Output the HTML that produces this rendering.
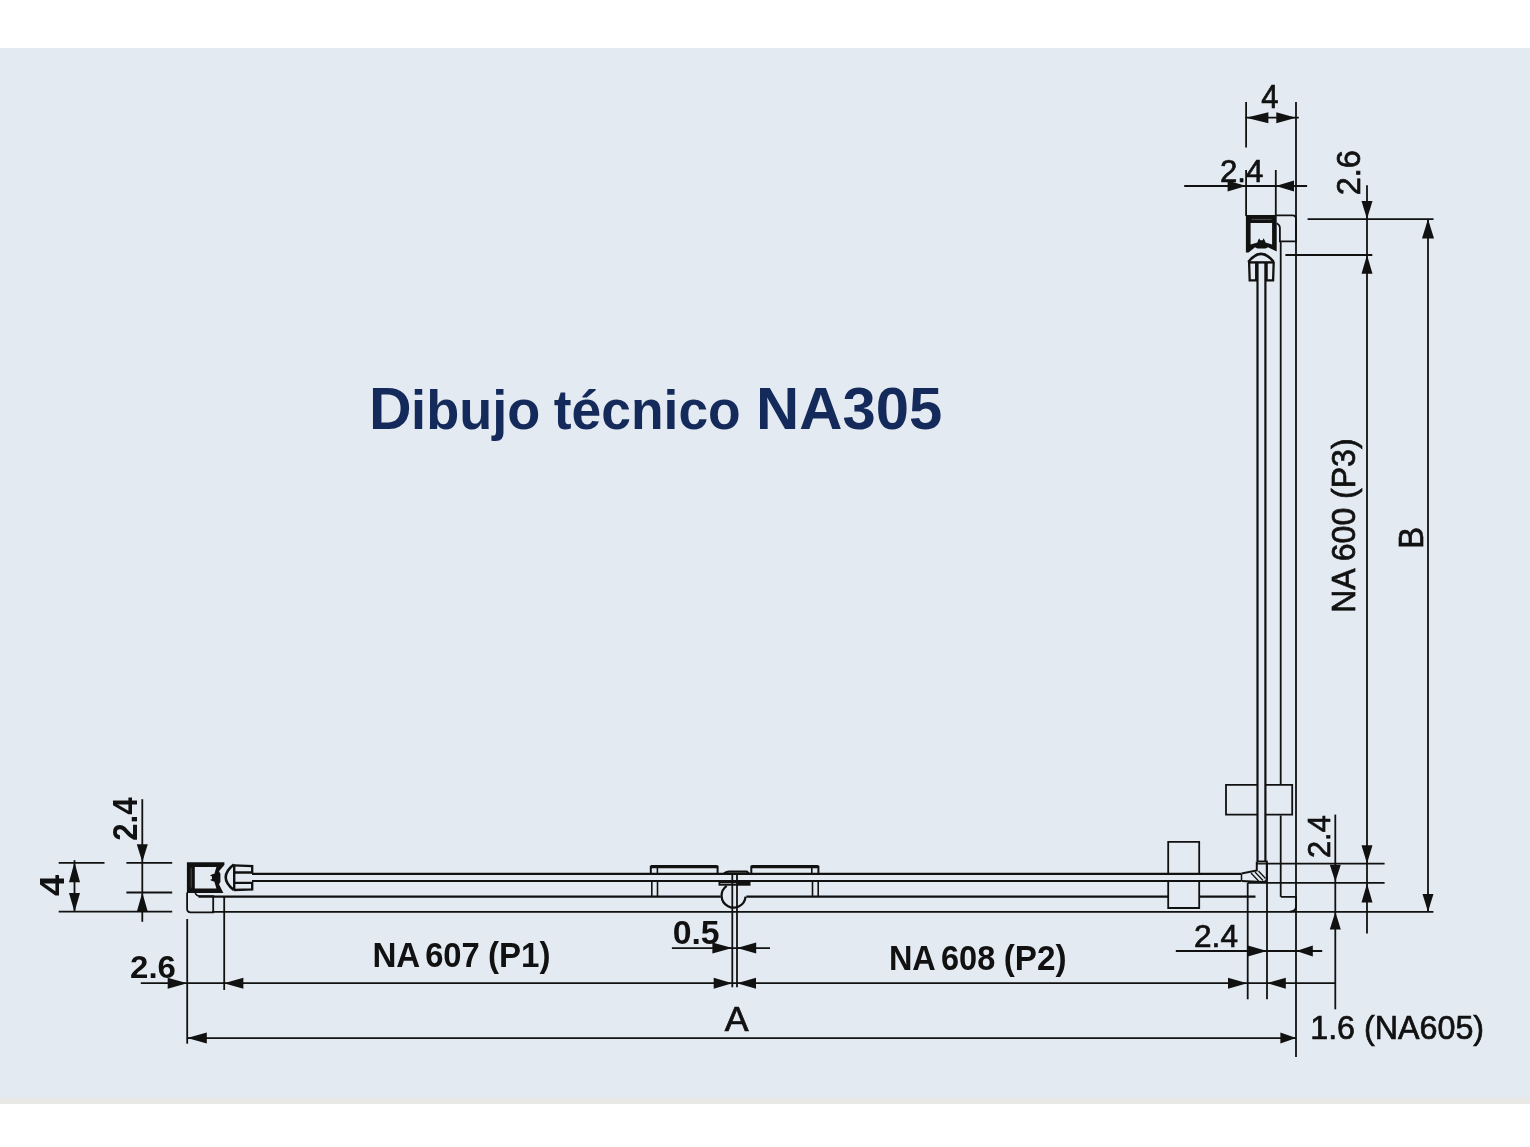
<!DOCTYPE html>
<html><head><meta charset="utf-8"><style>
html,body{margin:0;padding:0;background:#fff;}
body{width:1530px;height:1147px;position:relative;overflow:hidden;font-family:"Liberation Sans",sans-serif;}
#bg{position:absolute;left:0;top:48px;width:1530px;height:1056px;background:#e3eaf1;}
#bb{position:absolute;left:0;top:1097px;width:1530px;height:7px;background:linear-gradient(#e4e9ec,#e9e8e6 40%,#e8e8e6);}
svg{position:absolute;left:0;top:0;will-change:transform;}
</style></head><body>
<div id="bg"></div><div id="bb"></div>
<svg width="1530" height="1147" viewBox="0 0 1530 1147">
<g stroke="#111" fill="none" stroke-linecap="butt">
<line x1="1246.1" y1="102" x2="1246.1" y2="147.5" stroke-width="1.8"/>
<line x1="1246.1" y1="170" x2="1246.1" y2="216" stroke-width="1.8"/>
<line x1="1296" y1="102" x2="1296" y2="1057" stroke-width="1.8"/>
<line x1="1245.4" y1="117.7" x2="1298.8" y2="117.7" stroke-width="1.8"/>
<polygon points="1246.1,117.7 1268.4,112.2 1268.4,123.2" stroke="none" fill="#111"/>
<polygon points="1296,117.7 1276.3,112.2 1276.3,123.2" stroke="none" fill="#111"/>
<line x1="1184.2" y1="186" x2="1307.1" y2="186" stroke-width="1.8"/>
<polygon points="1246.1,186 1227.6,180.5 1227.6,191.5" stroke="none" fill="#111"/>
<polygon points="1275.8,186 1294,180.5 1294,191.5" stroke="none" fill="#111"/>
<line x1="1275.8" y1="170" x2="1275.8" y2="216" stroke-width="1.8"/>
<line x1="1367" y1="185.3" x2="1367" y2="933.6" stroke-width="1.8"/>
<polygon points="1367,219.1 1361.5,201.1 1372.5,201.1" stroke="none" fill="#111"/>
<polygon points="1367,255 1361.5,273.7 1372.5,273.7" stroke="none" fill="#111"/>
<polygon points="1367,863.5 1361.5,845.2 1372.5,845.2" stroke="none" fill="#111"/>
<polygon points="1367,883.4 1361.5,902.5 1372.5,902.5" stroke="none" fill="#111"/>
<line x1="1307.6" y1="219.1" x2="1433.5" y2="219.1" stroke-width="1.8"/>
<line x1="1285.4" y1="255" x2="1372.3" y2="255" stroke-width="1.8"/>
<line x1="1428" y1="219" x2="1428" y2="911.7" stroke-width="1.8"/>
<polygon points="1428,219 1422,238.5 1434,238.5" stroke="none" fill="#111"/>
<polygon points="1428,911.7 1422.5,894 1433.5,894" stroke="none" fill="#111"/>
<g id="prof"><path d="M1245.9,215.1 L1276.7,215.1 L1276.7,251.6 L1268,247.2 L1265.6,248.6 L1257.4,248.6 L1255,247.2 L1248.6,252.6 L1245.9,252.6 Z M1250.6,223 L1272.1,223 L1272.1,244.6 L1265.5,242.6 L1264.8,240.5 L1263.6,238.2 L1262.6,240.2 L1260.2,240.2 L1259.2,238.2 L1258,240.5 L1257.4,242.6 L1250.6,244.6 Z" fill="#111" fill-rule="evenodd" stroke="none"/>
<path d="M1251.8,219.4 L1271.4,219.4" stroke-width="0.7" fill="none" stroke="#666"/>
<path d="M1276.2,215.3 L1292.5,215.3 Q1296,215.3 1296,218.8 L1296,241.4 L1279.9,241.4 L1279.9,227.5 Q1279.6,225 1276.8,223.3" stroke-width="1.8" fill="none"/>
<path d="M1248.3,262 Q1261,245.8 1273.8,262" stroke-width="2.6" fill="none"/>
<path d="M1248.3,262.4 L1273.8,262.4" stroke-width="2.4" fill="none"/>
<path d="M1249.1,262 L1249.7,280.4 L1256.2,280.4 L1256.2,262 M1273.7,262 L1273.1,280.4 L1266.6,280.4 L1266.6,262" stroke-width="2.3" fill="none"/></g>
<use href="#prof" transform="matrix(0,1,1,0,-28.2,-383.7)"/>
<line x1="1257.5" y1="262" x2="1257.5" y2="861" stroke-width="2.2"/>
<line x1="1265.4" y1="262" x2="1265.4" y2="861" stroke-width="2.2"/>
<line x1="1280.7" y1="241" x2="1280.7" y2="784.4" stroke-width="1.8"/>
<line x1="1280.7" y1="815.4" x2="1280.7" y2="896.8" stroke-width="1.8"/>
<path d="M1257.4,784.9 L1226,784.9 L1226,814.7 L1257.4,814.7 M1265.5,784.9 L1292.2,784.9 L1292.2,814.7 L1265.5,814.7" stroke-width="1.8" fill="none"/>
<path d="M1168.2,873.8 L1168.2,841.8 L1199.2,841.8 L1199.2,873.8 M1168.2,881 L1168.2,908 L1199.2,908 L1199.2,881" stroke-width="1.8" fill="none"/>
<line x1="252" y1="873.8" x2="1241" y2="873.8" stroke-width="2.2"/>
<line x1="252" y1="881.0" x2="1241" y2="881.0" stroke-width="2.2"/>
<line x1="198.5" y1="896.6" x2="720.8" y2="896.6" stroke-width="2.2"/>
<line x1="746.3" y1="896.6" x2="1168.2" y2="896.6" stroke-width="2.2"/>
<line x1="1199.2" y1="896.6" x2="1255.5" y2="896.6" stroke-width="2.2"/>
<line x1="212" y1="911.8" x2="1433.4" y2="911.8" stroke-width="1.8"/>
<path d="M1280.8,896.8 L1296.1,896.8 L1296.1,905.5 Q1296.1,911.6 1290,911.6" stroke-width="1.8" fill="none"/>
<path d="M1256.8,861.5 L1266.8,861.5 L1266.8,879 Q1266.6,882 1263,882 L1241.5,881 M1256.8,861.5 L1256.8,870.5 L1241.5,873.6" stroke-width="2" fill="none"/>
<path d="M1256.8,863.8 L1266.8,863.8" stroke-width="1.4" fill="none"/>
<path d="M1251,873 L1259,881.5 M1255,872 L1263,880.5 M1258.5,871 L1265.5,878.5" stroke-width="1.3" fill="none"/>
<path d="M1241.5,873.6 L1241.5,881" stroke-width="1.5" fill="none"/>
<line x1="1266.8" y1="863.7" x2="1384.6" y2="863.7" stroke-width="1.8"/>
<line x1="1248" y1="882.9" x2="1384.6" y2="882.9" stroke-width="1.8"/>
<line x1="1247.7" y1="882.6" x2="1247.7" y2="999.3" stroke-width="1.8"/>
<line x1="1267" y1="863.7" x2="1267" y2="999.3" stroke-width="1.8"/>
<path d="M650.8,873.6 L650.8,866.8 L717.6,866.8 L717.6,873.6" stroke-width="2" fill="none"/>
<path d="M650.8,866.6 L717.6,866.6" stroke-width="3.2" fill="none"/>
<path d="M657.4,868 L657.4,873.5" stroke-width="1.6" fill="none"/>
<path d="M818.4,873.6 L818.4,866.8 L751.3,866.8 L751.3,873.6" stroke-width="2" fill="none"/>
<path d="M818.4,866.6 L751.3,866.6" stroke-width="3.2" fill="none"/>
<path d="M811.8,868 L811.8,873.5" stroke-width="1.6" fill="none"/>
<line x1="651.8" y1="881" x2="651.8" y2="896.6" stroke-width="1.6"/>
<line x1="657.5" y1="881" x2="657.5" y2="896.6" stroke-width="1.6"/>
<line x1="812.5" y1="881" x2="812.5" y2="896.6" stroke-width="1.6"/>
<line x1="818.2" y1="881" x2="818.2" y2="896.6" stroke-width="1.6"/>
<path d="M726.7,885.8 A12,12 0 1 0 745.55,896.6" stroke-width="2.2" fill="none"/>
<path d="M724,873.2 Q727,871.6 729,871.6 L746.8,871.6 L749,873.5" stroke-width="2.2" fill="none"/>
<rect x="719.4" y="882.4" width="30.2" height="2.4" stroke-width="1.8" fill="none"/>
<rect x="737" y="882.4" width="12.6" height="2.4" stroke-width="0" fill="#111"/>
<line x1="732.3" y1="873.5" x2="732.3" y2="987.3" stroke-width="1.8"/>
<line x1="737" y1="873.5" x2="737" y2="987.3" stroke-width="1.8"/>
<line x1="671.9" y1="948.1" x2="770" y2="948.1" stroke-width="1.8"/>
<polygon points="732.3,948.1 712.4,942.6 712.4,953.6" stroke="none" fill="#111"/>
<polygon points="737,948.1 756.2,942.6 756.2,953.6" stroke="none" fill="#111"/>
<line x1="140.8" y1="983.2" x2="1335.3" y2="983.2" stroke-width="1.8"/>
<polygon points="187.2,983.2 167.7,977.7 167.7,988.7" stroke="none" fill="#111"/>
<polygon points="223.9,983.2 243.4,977.7 243.4,988.7" stroke="none" fill="#111"/>
<polygon points="732.3,983.2 713.7,977.7 713.7,988.7" stroke="none" fill="#111"/>
<polygon points="737,983.2 756,977.7 756,988.7" stroke="none" fill="#111"/>
<polygon points="1247.3,983.2 1228,977.7 1228,988.7" stroke="none" fill="#111"/>
<polygon points="1267.2,983.2 1285.8,977.7 1285.8,988.7" stroke="none" fill="#111"/>
<line x1="187.2" y1="919" x2="187.2" y2="1043.7" stroke-width="1.8"/>
<line x1="224.2" y1="896" x2="224.2" y2="990" stroke-width="1.8"/>
<line x1="1335.3" y1="814.6" x2="1335.3" y2="1009.3" stroke-width="1.8"/>
<polygon points="1335.3,881.8 1329.8,864.7 1340.8,864.7" stroke="none" fill="#111"/>
<polygon points="1335.3,911.7 1329.8,929.4 1340.8,929.4" stroke="none" fill="#111"/>
<line x1="1175.8" y1="951" x2="1322.2" y2="951" stroke-width="1.8"/>
<polygon points="1267,951 1247.9,945.5 1247.9,956.5" stroke="none" fill="#111"/>
<polygon points="1296.3,951 1312.8,945.5 1312.8,956.5" stroke="none" fill="#111"/>
<line x1="187.2" y1="1038.1" x2="1296.1" y2="1038.1" stroke-width="1.8"/>
<polygon points="187.2,1038.1 206.8,1032.6 206.8,1043.6" stroke="none" fill="#111"/>
<polygon points="1296.1,1038.1 1280.4,1032.6 1280.4,1043.6" stroke="none" fill="#111"/>
<line x1="74.5" y1="860.2" x2="74.5" y2="912" stroke-width="1.8"/>
<polygon points="74.5,862 69.0,882.2 80.0,882.2" stroke="none" fill="#111"/>
<polygon points="74.5,912 69.0,893.1 80.0,893.1" stroke="none" fill="#111"/>
<line x1="58.7" y1="862.9" x2="104.5" y2="862.9" stroke-width="1.8"/>
<line x1="126.4" y1="862.9" x2="172.2" y2="862.9" stroke-width="1.8"/>
<line x1="126.4" y1="892.5" x2="172.2" y2="892.5" stroke-width="1.8"/>
<line x1="58.7" y1="911.7" x2="172.2" y2="911.7" stroke-width="1.8"/>
<line x1="142.3" y1="799.2" x2="142.3" y2="921.8" stroke-width="1.8"/>
<polygon points="142.3,862 136.8,844.3 147.8,844.3" stroke="none" fill="#111"/>
<polygon points="142.3,892.5 136.8,911.7 147.8,911.7" stroke="none" fill="#111"/>
</g>
<g fill="#111" font-family="Liberation Sans, sans-serif">
<text transform="translate(369.05,429.30) scale(1.0003,1.0)" font-size="59.01" font-weight="bold" fill="#142a5a">D</text>
<text transform="translate(411.12,429.30) scale(0.9167,0.93)" font-size="59.01" font-weight="bold" fill="#142a5a">ibujo</text>
<text transform="translate(553.75,429.30) scale(0.9053,0.93)" font-size="59.01" font-weight="bold" fill="#142a5a">técnico</text>
<text transform="translate(756.10,429.30) scale(1.0135,1.0)" font-size="59.01" font-weight="bold" fill="#142a5a">NA305</text>
<text transform="translate(1261.13,107.70) scale(0.9527,1.0)" font-size="32.70" font-weight="normal" stroke="#111" stroke-width="0.7">4</text>
<text transform="translate(1219.98,182.00) scale(0.9682,1.0)" font-size="32.23" font-weight="normal" stroke="#111" stroke-width="0.7">2.4</text>
<text transform="translate(1359.80,195.29) rotate(-90) scale(0.9840,1)" font-size="33.09" font-weight="normal" stroke="#111" stroke-width="0.7">2.6</text>
<text transform="translate(1354.60,612.78) rotate(-90) scale(0.9580,1)" font-size="33.43" font-weight="normal" stroke="#111" stroke-width="0.7">NA 600 (P3)</text>
<text transform="translate(1422.60,548.83) rotate(-90) scale(0.9491,1)" font-size="34.45" font-weight="normal" stroke="#111" stroke-width="0.7">B</text>
<text transform="translate(1330.30,858.00) rotate(-90) scale(0.9712,1)" font-size="31.66" font-weight="normal" stroke="#111" stroke-width="0.7">2.4</text>
<text transform="translate(1194.06,947.00) scale(1.0161,1.0)" font-size="31.09" font-weight="normal" stroke="#111" stroke-width="0.7">2.4</text>
<text transform="translate(1310.19,1039.00) scale(0.9651,1.0)" font-size="33.43" font-weight="normal" stroke="#111" stroke-width="0.7">1.6 (NA605)</text>
<text transform="translate(724.78,1031.00) scale(1.0376,1.0)" font-size="34.45" font-weight="normal" stroke="#111" stroke-width="0.7">A</text>
<text transform="translate(372.43,967.40) scale(0.9545,1.0)" font-size="34.74" font-weight="bold">NA</text>
<text transform="translate(425.15,967.40) scale(0.9427,1.0)" font-size="34.74" font-weight="bold">607</text>
<text transform="translate(488.00,967.40) scale(0.9523,1.0)" font-size="34.74" font-weight="bold">(P1)</text>
<text transform="translate(888.88,970.00) scale(0.9315,1.0)" font-size="34.88" font-weight="bold">NA</text>
<text transform="translate(940.96,970.00) scale(0.9328,1.0)" font-size="34.88" font-weight="bold">608</text>
<text transform="translate(1003.69,970.00) scale(0.9547,1.0)" font-size="34.88" font-weight="bold">(P2)</text>
<text transform="translate(672.71,943.50) scale(1.0095,1.0)" font-size="33.47" font-weight="bold">0.5</text>
<text transform="translate(130.11,977.80) scale(1.0284,1.0)" font-size="32.06" font-weight="bold">2.6</text>
<text transform="translate(64.20,895.92) rotate(-90) scale(1.0910,1)" font-size="34.74" font-weight="bold">4</text>
<text transform="translate(137.40,840.83) rotate(-90) scale(0.9129,1)" font-size="34.24" font-weight="bold">2.4</text>
</g>
</svg>
</body></html>
